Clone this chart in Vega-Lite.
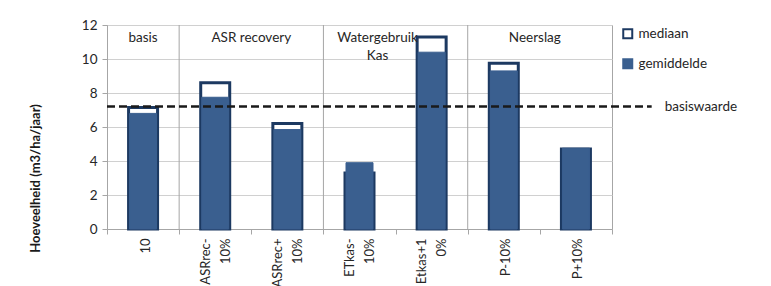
{
  "$schema": "https://vega.github.io/schema/vega-lite/v6.json",
  "width": 505,
  "height": 204,
  "autosize": {"type": "none"},
  "padding": {"left": 107, "top": 25, "right": 159, "bottom": 57},
  "background": "white",
  "config": {
    "font": "Lato",
    "view": {"stroke": "#a6a6a6", "strokeWidth": 1}
  },
  "datasets": {
    "bars": [
      {"scenario": "10", "stat": "mediaan", "value": 7.15},
      {"scenario": "ASRrec-|10%", "stat": "mediaan", "value": 8.6},
      {"scenario": "ASRrec+|10%", "stat": "mediaan", "value": 6.2},
      {"scenario": "ETkas-|10%", "stat": "mediaan", "value": 3.3},
      {"scenario": "Etkas+1|0%", "stat": "mediaan", "value": 11.3},
      {"scenario": "P-10%", "stat": "mediaan", "value": 9.75},
      {"scenario": "P+10%", "stat": "mediaan", "value": 4.7},
      {"scenario": "10", "stat": "gemiddelde", "value": 6.8},
      {"scenario": "ASRrec-|10%", "stat": "gemiddelde", "value": 7.75},
      {"scenario": "ASRrec+|10%", "stat": "gemiddelde", "value": 5.85},
      {"scenario": "ETkas-|10%", "stat": "gemiddelde", "value": 3.9},
      {"scenario": "Etkas+1|0%", "stat": "gemiddelde", "value": 10.4},
      {"scenario": "P-10%", "stat": "gemiddelde", "value": 9.3},
      {"scenario": "P+10%", "stat": "gemiddelde", "value": 4.75}
    ],
    "groups": [
      {"group": "basis", "center": 0.5, "end": 1},
      {"group": "ASR recovery", "center": 2.0, "end": 3},
      {"group": "Watergebruik|Kas", "center": 3.75, "end": 5},
      {"group": "Neerslag", "center": 5.93, "end": 7}
    ],
    "basis": [
      {"label": "basiswaarde", "value": 7.2}
    ]
  },
  "layer": [
    {
      "data": {"name": "bars"},
      "mark": {"type": "bar"},
      "encoding": {
        "x": {
          "field": "scenario", "type": "nominal", "sort": null,
          "scale": {"paddingInner": 0, "paddingOuter": 0},
          "axis": {
            "title": null, "labelAngle": -90, "labelFontSize": 13, "labelColor": "#262626",
            "labelExpr": "split(datum.label, '|')", "labelLineHeight": 20,
            "labelOffset": {"condition": {"test": "indexof(datum.label, '|') >= 0", "value": -10}, "value": 2},
            "tickBand": "extent", "ticks": true, "tickSize": 5, "tickColor": "#a6a6a6",
            "domainColor": "#a6a6a6", "labelPadding": 4, "grid": false
          }
        },
        "y": {
          "field": "value", "type": "quantitative", "stack": null,
          "scale": {"domain": [0, 12], "nice": false, "zero": true},
          "axis": {
            "values": [0, 2, 4, 6, 8, 10, 12], "grid": true, "gridColor": "#d0d0d0",
            "tickSize": 5, "tickColor": "#a6a6a6", "domainColor": "#a6a6a6",
            "labelFontSize": 13.5, "labelColor": "#262626", "labelPadding": 5, "labelOverlap": false,
            "title": "Hoeveelheid (m3/ha/jaar)", "titleFontWeight": "bold", "titleFontSize": 13,
            "titleColor": "#1a1a1a", "titleX": -72, "titleY": 153, "titleAngle": -90,
            "titleBaseline": "middle", "titleAlign": "center"
          }
        },
        "fill": {
          "field": "stat", "type": "nominal",
          "scale": {"domain": ["mediaan", "gemiddelde"], "range": ["#ffffff", "#3a5f8f"]},
          "legend": {
            "title": null, "orient": "none", "legendX": 514, "legendY": 2,
            "symbolType": "square", "symbolSize": 81, "symbolStrokeWidth": 2,
            "labelFontSize": 13.5, "labelColor": "#262626", "rowPadding": 12, "labelOffset": 4
          }
        },
        "stroke": {
          "field": "stat", "type": "nominal",
          "scale": {"domain": ["mediaan", "gemiddelde"], "range": ["#1c3961", "#3a5f8f"]}
        },
        "strokeWidth": {"condition": {"test": "datum.stat === 'mediaan'", "value": 3}, "value": 1},
        "size": {"condition": {"test": "datum.stat === 'mediaan'", "value": 29}, "value": 27}
      }
    },
    {
      "data": {"name": "groups"},
      "transform": [{"filter": "datum.end < 7"}],
      "mark": {"type": "rule", "color": "#a6a6a6", "strokeWidth": 1},
      "encoding": {
        "x": {"field": "end", "type": "quantitative", "scale": {"domain": [0, 7], "nice": false, "zero": false}, "axis": null},
        "y": {"datum": 0, "type": "quantitative", "scale": {"domain": [0, 12], "nice": false}, "axis": null},
        "y2": {"datum": 12}
      }
    },
    {
      "data": {"name": "groups"},
      "mark": {"type": "text", "fontSize": 13.5, "color": "#262626", "baseline": "alphabetic", "align": "center", "lineBreak": "|", "lineHeight": 18},
      "encoding": {
        "x": {"field": "center", "type": "quantitative", "scale": {"domain": [0, 7], "nice": false, "zero": false}, "axis": null},
        "y": {"datum": 11.0, "type": "quantitative", "scale": {"domain": [0, 12], "nice": false}, "axis": null},
        "text": {"field": "group"}
      }
    },
    {
      "data": {"name": "basis"},
      "mark": {"type": "rule", "color": "#1a1a1a", "strokeWidth": 2.5, "strokeDash": [8, 4]},
      "encoding": {
        "x": {"datum": 0, "type": "quantitative", "scale": {"domain": [0, 7], "nice": false, "zero": false}, "axis": null},
        "x2": {"datum": 7.55},
        "y": {"field": "value", "type": "quantitative", "scale": {"domain": [0, 12], "nice": false}, "axis": null}
      }
    },
    {
      "data": {"name": "basis"},
      "mark": {"type": "text", "fontSize": 13.5, "color": "#262626", "align": "left", "baseline": "middle"},
      "encoding": {
        "x": {"datum": 7.73, "type": "quantitative", "scale": {"domain": [0, 7], "nice": false, "zero": false}, "axis": null},
        "y": {"field": "value", "type": "quantitative", "scale": {"domain": [0, 12], "nice": false}, "axis": null},
        "text": {"field": "label"}
      }
    }
  ],
  "resolve": {"scale": {"x": "independent", "y": "independent"}}
}
